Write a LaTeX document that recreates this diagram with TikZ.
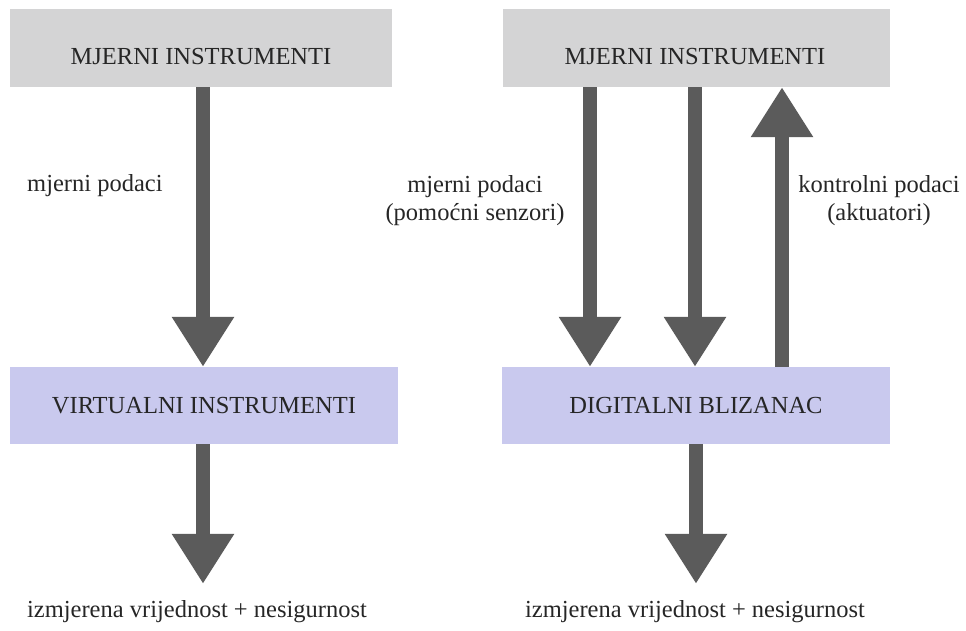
\documentclass[tikz,border=0pt]{standalone}
\usepackage{fontspec}
\newfontfamily\timesrm{LiberationSerif}[Extension=.ttf,UprightFont=*-Regular]
\usetikzlibrary{arrows.meta}
\definecolor{boxgray}{RGB}{212,212,213}
\definecolor{boxlila}{RGB}{201,201,238}
\definecolor{pfeilgray}{RGB}{91,91,91}
\begin{document}
\begin{tikzpicture}[x=1pt,y=-1pt,
		kasten/.style={fill=#1,draw=none,inner sep=0pt,minimum height=78pt},
		txt/.style={font=\timesrm\fontsize{24.5}{28}\selectfont,inner sep=1pt,align=center,text=black!85},
		pfeil/.style={draw=pfeilgray,line width=14pt,-{Triangle[width=59pt,length=50pt]}}]
			\useasboundingbox (0,0) rectangle (966,630); % Rand wie im Original
			% obere Kaesten
			\node[kasten=boxgray,minimum width=382pt] (mi1) at (201,48) {};
			\node[kasten=boxgray,minimum width=387pt] (mi2) at (696.5,48) {};
			\node[txt] (mi1t) at (201,57) {MJERNI INSTRUMENTI};
			\node[txt] (mi2t) at (695,57) {MJERNI INSTRUMENTI};
			% untere Kaesten
			\node[kasten=boxlila,minimum width=388pt,minimum height=77pt,txt] (vi) at (204,405.5) {VIRTUALNI INSTRUMENTI};
			\node[kasten=boxlila,minimum width=388pt,minimum height=77pt,txt] (db) at (696,405.5) {DIGITALNI BLIZANAC};
			% Beschriftungen
			\node[txt,anchor=base west] (md1) at (26,191) {mjerni podaci};
			\node[txt] (md2) at (475,201) {mjerni podaci\\(pomoćni senzori)};
			\node[txt] (kp) at (879,201) {kontrolni podaci\\(aktuatori)};
			\node[txt,anchor=base] (iz1) at (197,617) {izmjerena vrijednost + nesigurnost};
			\node[txt,anchor=base] (iz2) at (695,617) {izmjerena vrijednost + nesigurnost};
			% Pfeile
			\draw[pfeil] ([xshift=2pt]mi1.south) -- ([xshift=-1pt]vi.north);
			\draw[pfeil] ([xshift=-106.5pt]mi2.south) -- ([xshift=-106pt]db.north);
			\draw[pfeil] ([xshift=-1.5pt]mi2.south) -- ([xshift=-1pt]db.north);
			\draw[pfeil] ([xshift=86pt]db.north) -- ([xshift=85.5pt]mi2.south);
			\draw[pfeil,shorten >=15pt] ([xshift=-1pt]vi.south) -- ([xshift=-1pt]vi.south |- iz1.north);
			\draw[pfeil,shorten >=15pt] (db.south) -- (db.south |- iz2.north);
		\end{tikzpicture}
\end{document}
